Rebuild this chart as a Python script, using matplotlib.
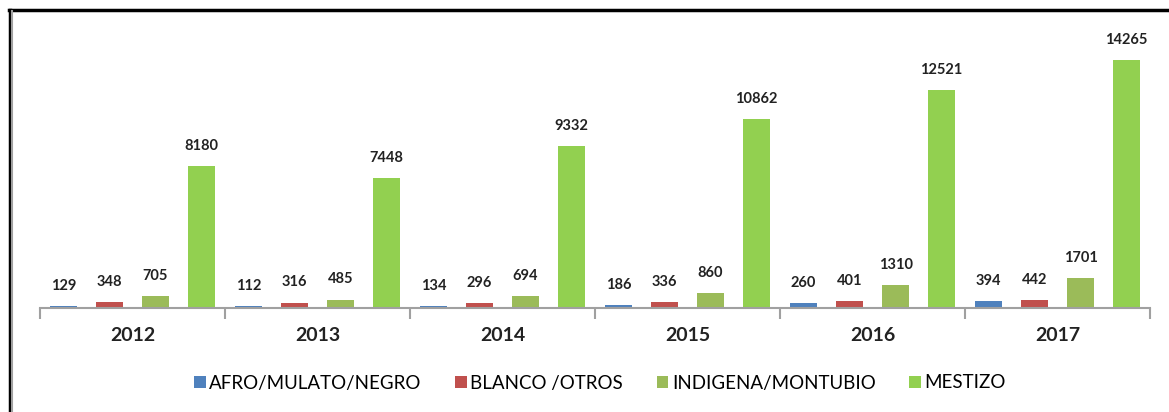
import matplotlib.pyplot as plt
from matplotlib.lines import Line2D
import numpy as np

years = ['2012', '2013', '2014', '2015', '2016', '2017']
afro = [129, 112, 134, 186, 260, 394]
blanco = [348, 316, 296, 336, 401, 442]
indigena = [705, 485, 694, 860, 1310, 1701]
mestizo = [8180, 7448, 9332, 10862, 12521, 14265]

series = [
    ('AFRO/MULATO/NEGRO', afro, '#4F81BD'),
    ('BLANCO /OTROS', blanco, '#C0504D'),
    ('INDIGENA/MONTUBIO', indigena, '#9BBB59'),
    ('MESTIZO', mestizo, '#92D050'),
]

plt.rcParams['font.family'] = ['Lato', 'DejaVu Sans']

fig = plt.figure(figsize=(11.69, 4.12), dpi=100)
ax = fig.add_axes([40 / 1169, 1 - 308 / 412, 1110 / 1169, 288 / 412])

x = np.arange(len(years))
w = 0.146
step = 0.249
for i, (name, vals, col) in enumerate(series):
    pos = x + (i - 1.5) * step
    ax.bar(pos, vals, w, color=col, label=name, zorder=2)
    for p, v in zip(pos, vals):
        ax.annotate(str(v), (p, v), xytext=(0, 14.5), textcoords='offset points',
                    ha='center', va='center', fontsize=10.5, fontweight='bold',
                    color='#222222')

ax.set_xlim(-0.5, len(years) - 0.5)
ax.set_ylim(0, 16560)
ax.set_yticks([])
for s in ['top', 'right', 'left']:
    ax.spines[s].set_visible(False)
ax.spines['bottom'].set_color('#A0A0A0')
ax.spines['bottom'].set_linewidth(1.5)

ax.set_xticks(np.arange(-0.5, len(years), 1.0))
ax.set_xticklabels([])
ax.tick_params(axis='x', length=8, width=1.5, color='#A0A0A0')
ax.set_xticks(x, minor=True)
ax.set_xticklabels(years, minor=True, fontsize=14, fontweight='bold', color='#222222')
ax.tick_params(axis='x', which='minor', length=0, pad=14)

ax.legend(loc='center', bbox_to_anchor=(600 / 1169, 1 - 383 / 412),
          bbox_transform=fig.transFigure, ncol=4, frameon=False,
          fontsize=13.5, handlelength=0.6, handleheight=0.6, handletextpad=0.2,
          columnspacing=1.8)

# frame lines around the chart
fig.add_artist(Line2D([9 / 1169, 1], [1 - 10 / 412] * 2, color='black', lw=2.5,
                      transform=fig.transFigure))
fig.add_artist(Line2D([9.5 / 1169] * 2, [0, 1 - 10 / 412], color='black', lw=2.5,
                      transform=fig.transFigure))
fig.add_artist(Line2D([12 / 1169] * 2, [0, 1 - 11 / 412], color='#A0A0A0', lw=1.5,
                      transform=fig.transFigure))

fig.savefig('out.png', dpi=100)
